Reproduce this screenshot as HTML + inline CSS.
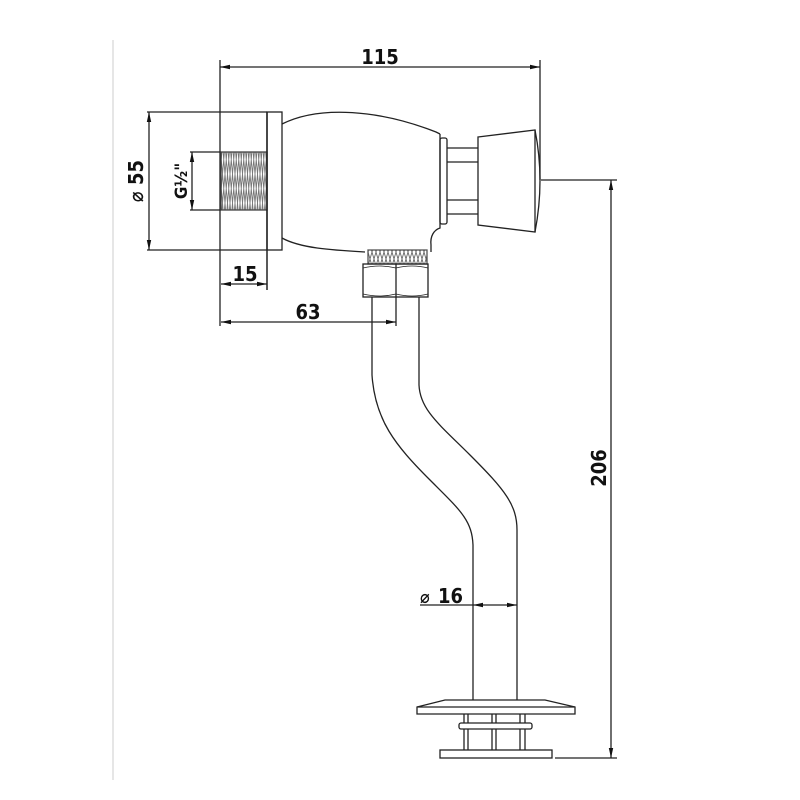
<!DOCTYPE html>
<html><head><meta charset="utf-8"><style>
html,body{margin:0;padding:0;background:#fff;width:800px;height:800px;overflow:hidden}
svg{display:block}
text{font-family:"Liberation Sans Narrow","DejaVu Sans Condensed","Liberation Sans",sans-serif;font-weight:bold;fill:#111}
</style></head><body>
<svg width="800" height="800" viewBox="0 0 800 800" xmlns="http://www.w3.org/2000/svg">
<defs>
<marker id="a" markerWidth="10" markerHeight="6" refX="10" refY="3" orient="auto-start-reverse" markerUnits="userSpaceOnUse"><path d="M0,0.8 L10,3 L0,5.2z" fill="#111"/></marker>
<pattern id="th" width="5" height="58" patternUnits="userSpaceOnUse"><path d="M0,0 L5,58 M2.5,0 L7.5,58 M-2.5,0 L2.5,58 M5,0 L0,58 M2.5,0 L-2.5,58 M7.5,0 L2.5,58" stroke="#777" stroke-width="0.9"/></pattern>
<pattern id="th2" width="4" height="14" patternUnits="userSpaceOnUse"><path d="M0,0 L4,14 M4,0 L0,14" stroke="#666" stroke-width="0.9"/></pattern>
</defs>
<line x1="113" y1="40" x2="113" y2="780" stroke="#ccc" stroke-width="1"/>
<g stroke="#222" stroke-width="1.3" fill="none">
<line x1="220" y1="60" x2="220" y2="326"/>
<line x1="540" y1="60" x2="540" y2="180"/>
<line x1="220" y1="67" x2="540" y2="67" marker-start="url(#a)" marker-end="url(#a)"/>
<line x1="147" y1="112" x2="267" y2="112"/>
<line x1="147" y1="250" x2="267" y2="250"/>
<line x1="149" y1="112" x2="149" y2="250" marker-start="url(#a)" marker-end="url(#a)"/>
<line x1="190" y1="152" x2="221" y2="152"/>
<line x1="190" y1="210" x2="221" y2="210"/>
<line x1="192" y1="152" x2="192" y2="210" marker-start="url(#a)" marker-end="url(#a)"/>
<rect x="221" y="152" width="46" height="58" fill="url(#th)" stroke="#444"/>
<line x1="267" y1="112" x2="267" y2="290" stroke-width="1.5"/>
<rect x="267" y="112" width="15" height="138"/>
<path d="M282,124 C320,105 380,110 436,132 L440,134"/>
<path d="M282,238 C300,248 330,250 365,252"/>
<path d="M440,134 L440,228 C434,230 430,236 431,245 L431,252"/>
<rect x="440" y="138" width="7" height="86" rx="2"/>
<line x1="447" y1="148" x2="478" y2="148"/><line x1="447" y1="162" x2="478" y2="162"/>
<line x1="447" y1="200" x2="478" y2="200"/><line x1="447" y1="214" x2="478" y2="214"/>
<path d="M478,137 L535,130 L535,232 L478,225 Z"/>
<path d="M535,130 Q545,180 535,232"/>
<line x1="541" y1="180" x2="617" y2="180"/>
<line x1="555" y1="758" x2="617" y2="758"/>
<line x1="611" y1="180" x2="611" y2="758" marker-start="url(#a)" marker-end="url(#a)"/>
<rect x="368" y="250" width="59" height="14" fill="url(#th2)" stroke="#555"/>
<rect x="363" y="264" width="65" height="33"/>
<line x1="396" y1="264" x2="396" y2="326"/>
<path d="M363,268 Q380,264 396,268 Q412,264 428,268 M363,294 Q380,298 396,294 Q412,298 428,294" stroke-width="0.8"/>
<line x1="221" y1="284" x2="267" y2="284" marker-start="url(#a)" marker-end="url(#a)"/>
<line x1="221" y1="322" x2="396" y2="322" marker-start="url(#a)" marker-end="url(#a)"/>
<path d="M372,297 L372,375 C375,420 395,445 430,480 C460,510 472,520 473,545 L473,700"/>
<path d="M419,297 L419,385 C420,410 440,425 470,455 C505,490 517,505 517,530 L517,700"/>
<line x1="420" y1="605" x2="473" y2="605"/>
<line x1="473" y1="605" x2="517" y2="605" marker-start="url(#a)" marker-end="url(#a)"/>
<path d="M445,700 L545,700 L575,707 L575,714 L417,714 L417,707 Z"/>
<line x1="417" y1="707" x2="575" y2="707"/>
<line x1="464" y1="714" x2="464" y2="750"/><line x1="468" y1="714" x2="468" y2="750"/>
<line x1="492" y1="714" x2="492" y2="750"/><line x1="496" y1="714" x2="496" y2="750"/>
<line x1="520" y1="714" x2="520" y2="750"/><line x1="525" y1="714" x2="525" y2="750"/>
<rect x="459" y="723" width="73" height="6" rx="2" fill="#fff"/>
<rect x="440" y="750" width="112" height="8"/>
</g>
<text x="380" y="64" font-size="20" text-anchor="middle">115</text>
<text x="245" y="281" font-size="20" text-anchor="middle">15</text>
<text x="308" y="319" font-size="20" text-anchor="middle">63</text>
<text x="438" y="603" font-size="20">16</text>
<text x="420" y="603" font-size="18" font-weight="normal" fill="#444">⌀</text>
<text transform="translate(143,181) rotate(-90)" font-size="20" text-anchor="middle">⌀ 55</text>
<text transform="translate(187,181) rotate(-90)" font-size="17" text-anchor="middle">G½"</text>
<text transform="translate(606,468) rotate(-90)" font-size="20" text-anchor="middle">206</text>
</svg>
</body></html>
